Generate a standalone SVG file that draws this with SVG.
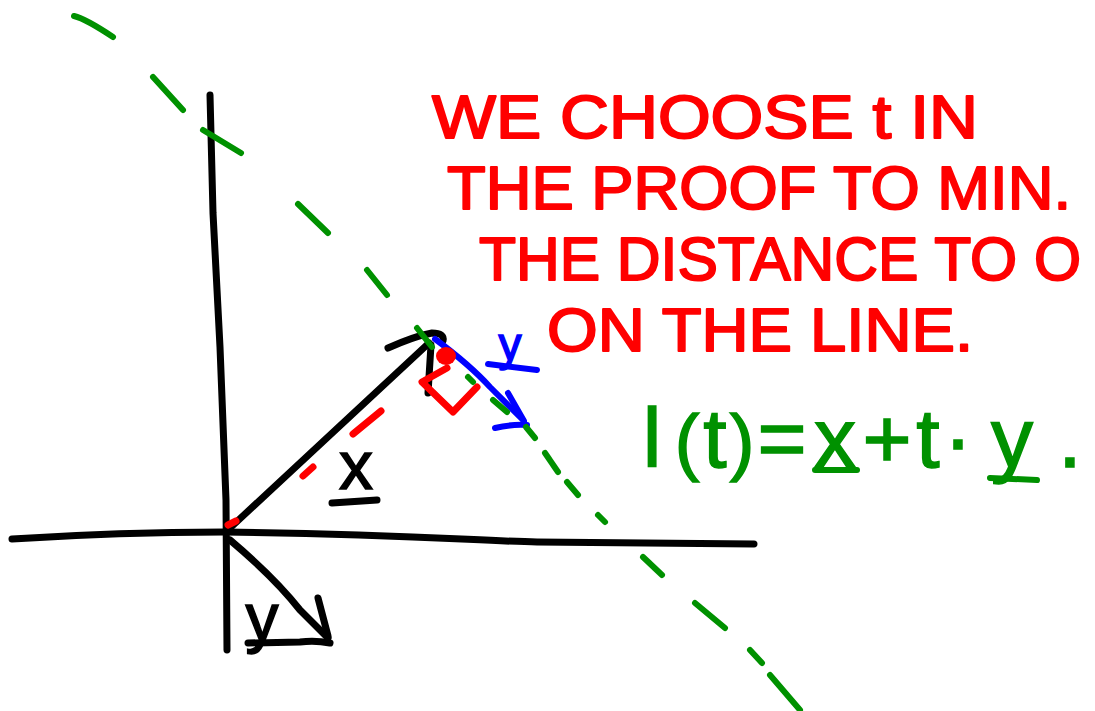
<svg xmlns="http://www.w3.org/2000/svg" width="1095" height="711" viewBox="0 0 1095 711">
<style>
.s{fill:none;stroke-linecap:round;stroke-linejoin:round}
.k{stroke:#000;stroke-width:7}
.r{stroke:#ff0000;stroke-width:7}
.b{stroke:#0000ff;stroke-width:6}
.g{stroke:#009100;stroke-width:6}
.note{font-family:"Liberation Sans",Arial,sans-serif;font-size:62px;fill:#ff0000;stroke:#ff0000;stroke-width:2;stroke-linejoin:round}
.lbl{font-family:"Liberation Sans",Arial,sans-serif;text-anchor:middle}
</style>
<rect width="1095" height="711" fill="#fff"/>
<g id="axes">
<path class="s k" d="M210,95 L213,213 L220,347 L226,500 L227,650"/>
<path class="s k" d="M12,539 Q120,532 224,532 C400,534 480,541 537,542 L754,544"/>
</g>
<g id="connectors">
<g id="vector-x">
<path class="s k" d="M230,528 L429,343"/>
<path class="s k" d="M388,348 Q415,336 432,333 Q445,333 443,341"/>
<path class="s k" d="M428,393 L431,345"/>
</g>
<g id="vector-y-origin">
<path class="s k" d="M230,540 Q275,578 300,610 L328,638"/>
<path class="s k" d="M318,598 L328,636"/>
<path class="s k" d="M248,643 L300,642 Q315,640 330,643"/>
</g>
<g id="vector-y-tip">
<path class="s b" d="M435,339 Q470,365 490,387 L523,420"/>
<path class="s b" d="M508,393 L524,421"/>
<path class="s b" d="M495,428 Q512,424 527,425"/>
</g>
<g id="distance">
<path class="s r" d="M228,525 L236,521"/>
<path class="s r" d="M303,476 L313,467"/>
<path class="s r" d="M353,434 L381,411"/>
<path class="s r" d="M447,368 L422,382 L453,412 L477,387"/>
<ellipse cx="446" cy="356" rx="10" ry="9" fill="#ff0000"/>
</g>
<g id="line-l">
<path class="s g" d="M74,16 Q86,19 113,37"/>
<path class="s g" d="M153,77 L183,110"/>
<path class="s g" d="M203,130 L241,153"/>
<path class="s g" d="M298,204 L328,233"/>
<path class="s g" d="M367,270 L387,295"/>
<path class="s g" d="M417,328 L432,347"/>
<path class="s g" d="M468,377 L473,382"/>
<path class="s g" d="M493,400 L507,412"/>
<path class="s g" d="M526,427 L535,438"/>
<path class="s g" d="M545,453 L558,472"/>
<path class="s g" d="M567,482 L578,495"/>
<path class="s g" d="M598,515 L605,522"/>
<path class="s g" d="M643,557 L662,575"/>
<path class="s g" d="M695,603 L725,628"/>
<path class="s g" d="M750,650 L762,663"/>
<path class="s g" d="M770,675 L800,710"/>
</g>
</g>
<g id="label-x">
<text class="lbl" x="356" y="489" font-size="68" fill="#000" stroke="#000" stroke-width="1.5">x</text>
<path class="s k" d="M332,503 L377,500"/>
</g>
<g id="label-y-origin">
<text class="lbl" x="262" y="640" font-size="66" fill="#000" stroke="#000" stroke-width="1.5">y</text>
</g>
<g id="label-y-tip">
<text class="lbl" x="510" y="360" font-size="46" fill="#0000ff" stroke="#0000ff" stroke-width="1.5">y</text>
<path class="s b" d="M488,364 L537,370" stroke-width="5"/>
</g>
<g id="note">
<text class="note" x="432" y="138" textLength="546" lengthAdjust="spacingAndGlyphs">WE CHOOSE t IN</text>
<text class="note" x="447" y="209" textLength="624" lengthAdjust="spacingAndGlyphs">THE PROOF TO MIN.</text>
<text class="note" x="479" y="280" textLength="602" lengthAdjust="spacingAndGlyphs">THE DISTANCE TO O</text>
<text class="note" x="547" y="351" textLength="426" lengthAdjust="spacingAndGlyphs">ON THE LINE.</text>
</g>
<g id="formula">
<text class="lbl" y="467" font-size="84" fill="#009100" stroke="#009100" stroke-width="1.5" x="652 687 715 742 782 835 887 928 958 1012 1070">l<tspan font-size="74">(</tspan>t<tspan font-size="74">)</tspan>=x+t·y.</text>
<path class="s g" d="M815,470 L857,470"/>
<path class="s g" d="M990,478 L1037,480"/>
</g>
</svg>
